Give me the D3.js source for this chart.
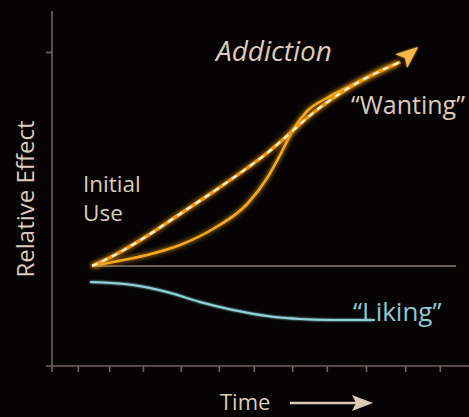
<!DOCTYPE html>
<html><head><meta charset="utf-8">
<script src="https://cdn.jsdelivr.net/npm/d3@7"></script>
<style>
html,body{margin:0;padding:0;background:#050303;}
svg{display:block;}
text{font-family:"Open Sans","Noto Sans",sans-serif;}
</style></head>
<body><svg id="c" width="469" height="417"></svg>
<script>
// Data (time units, relative effect units; baseline effect = 0)
const timeTicks = [0.62,1.37,2.18,3.09,4.00,4.84,5.76,6.59,7.53,8.47,9.30];
const effectTicks = [2.14];
const baselineTime = [0.96, 9.69];
const wantingDashed = [[0.96,0],[1.46,0.10],[2.28,0.30],[3.07,0.52],[3.86,0.74],[4.68,0.98],[5.16,1.13],[5.47,1.24],[6.26,1.53],[7.07,1.77],[7.87,1.95],[8.35,2.04]];
const arrowTip = [8.78, 2.19];
const wantingSolid = [[0.96,0],[1.46,0.04],[2.28,0.11],[3.07,0.21],[3.86,0.37],[4.68,0.62],[5.16,0.88],[5.47,1.11],[5.78,1.36],[6.12,1.55],[6.59,1.68],[7.15,1.80],[7.87,1.95],[8.30,2.03]];
const liking = [[0.91,-0.16],[1.94,-0.19],[2.76,-0.26],[3.55,-0.36],[4.34,-0.44],[5.16,-0.50],[5.95,-0.53],[6.74,-0.54],[7.70,-0.54]];

const svg = d3.select("#c");
const x = d3.scaleLinear().domain([0,10]).range([52,469]);
const y = d3.scaleLinear().domain([-1,2.55]).range([366,11]);

const defs = svg.append("defs");
function mkGlow(id, sd){
  const f = defs.append("filter").attr("id",id).attr("x","-20%").attr("y","-20%").attr("width","140%").attr("height","140%");
  f.append("feGaussianBlur").attr("stdDeviation",sd).attr("result","b");
  const m = f.append("feMerge");
  m.append("feMergeNode").attr("in","b");
  m.append("feMergeNode").attr("in","SourceGraphic");
}
mkGlow("glow",2.5); mkGlow("glow2",1.2);

const axisCol = "#6f6461";
const xAxis = svg.append("g").attr("transform",`translate(0,${y(-1)})`)
  .call(d3.axisBottom(x).tickValues(timeTicks).tickSize(6).tickFormat("").tickSizeOuter(0));
xAxis.select(".domain").remove();
xAxis.selectAll(".tick line").attr("stroke",axisCol).attr("stroke-width",1.6);
svg.append("line").attr("x1",46).attr("x2",469).attr("y1",y(-1)).attr("y2",y(-1)).attr("stroke",axisCol).attr("stroke-width",1.6);

const yAxis = svg.append("g").attr("transform",`translate(${x(0)},0)`)
  .call(d3.axisLeft(y).tickValues(effectTicks).tickSize(6).tickFormat("").tickSizeOuter(0));
yAxis.select(".domain").remove();
yAxis.selectAll(".tick line").attr("stroke",axisCol).attr("stroke-width",1.6);
svg.append("line").attr("x1",x(0)).attr("x2",x(0)).attr("y1",y(2.55)).attr("y2",y(-1)+6).attr("stroke",axisCol).attr("stroke-width",1.6);

svg.append("line").attr("x1",x(baselineTime[0])).attr("x2",x(baselineTime[1]))
  .attr("y1",y(0)).attr("y2",y(0)).attr("stroke","#8c7c6c").attr("stroke-width",1.5);

const line = d3.line().x(d=>x(d[0])).y(d=>y(d[1])).curve(d3.curveMonotoneX);

svg.append("path").datum(liking).attr("d",line).attr("fill","none")
  .attr("stroke","#8fd3d6").attr("stroke-width",2).attr("filter","url(#glow2)");

svg.append("path").datum(wantingSolid).attr("d",line).attr("fill","none")
  .attr("stroke","#f7a81e").attr("stroke-width",2.6).attr("filter","url(#glow)");
svg.append("path").datum(wantingDashed).attr("d",line).attr("fill","none")
  .attr("stroke","#f09a12").attr("stroke-width",3.4).attr("filter","url(#glow)");
svg.append("path").datum(wantingDashed).attr("d",line).attr("fill","none")
  .attr("stroke","#fff4d8").attr("stroke-width",2.2).attr("stroke-dasharray","6,5");

const last = wantingDashed[wantingDashed.length-1];
const tx = x(arrowTip[0]), ty = y(arrowTip[1]);
const bx = x(last[0]), by = y(last[1]);
const ang = Math.atan2(ty-by, tx-bx);
const L = 22, W = 9;
const cx = tx - L*Math.cos(ang), cy = ty - L*Math.sin(ang);
const p1 = [cx + W*Math.sin(ang), cy - W*Math.cos(ang)];
const p2 = [cx - W*Math.sin(ang), cy + W*Math.cos(ang)];
svg.append("path").attr("d",`M${tx},${ty}L${p1[0]},${p1[1]}L${cx+5*Math.cos(ang)},${cy+5*Math.sin(ang)}L${p2[0]},${p2[1]}Z`)
  .attr("fill","#f8b84a").attr("filter","url(#glow2)");

const tcol = "#dccbb8";
svg.append("text").attr("x",216).attr("y",61).attr("font-size",28).attr("font-style","italic").attr("fill",tcol).text("Addiction");
svg.append("text").attr("x",351).attr("y",114).attr("font-size",25).attr("fill",tcol).text("\u201CWanting\u201D");
svg.append("text").attr("x",83).attr("y",192).attr("font-size",22.5).attr("fill",tcol).text("Initial");
svg.append("text").attr("x",83).attr("y",221).attr("font-size",22.5).attr("fill",tcol).text("Use");
svg.append("text").attr("x",353).attr("y",321).attr("font-size",26).attr("fill","#8ec9d3").text("\u201CLiking\u201D");
svg.append("text").attr("transform","translate(34,199) rotate(-90)").attr("text-anchor","middle").attr("font-size",24).attr("fill",tcol).text("Relative Effect");
svg.append("text").attr("x",220).attr("y",410).attr("font-size",22).attr("fill",tcol).text("Time");
svg.append("line").attr("x1",290).attr("x2",360).attr("y1",403).attr("y2",403).attr("stroke",tcol).attr("stroke-width",2.5);
svg.append("path").attr("d","M373,403L352,395L356,403L352,411Z").attr("fill",tcol);
</script></body></html>
